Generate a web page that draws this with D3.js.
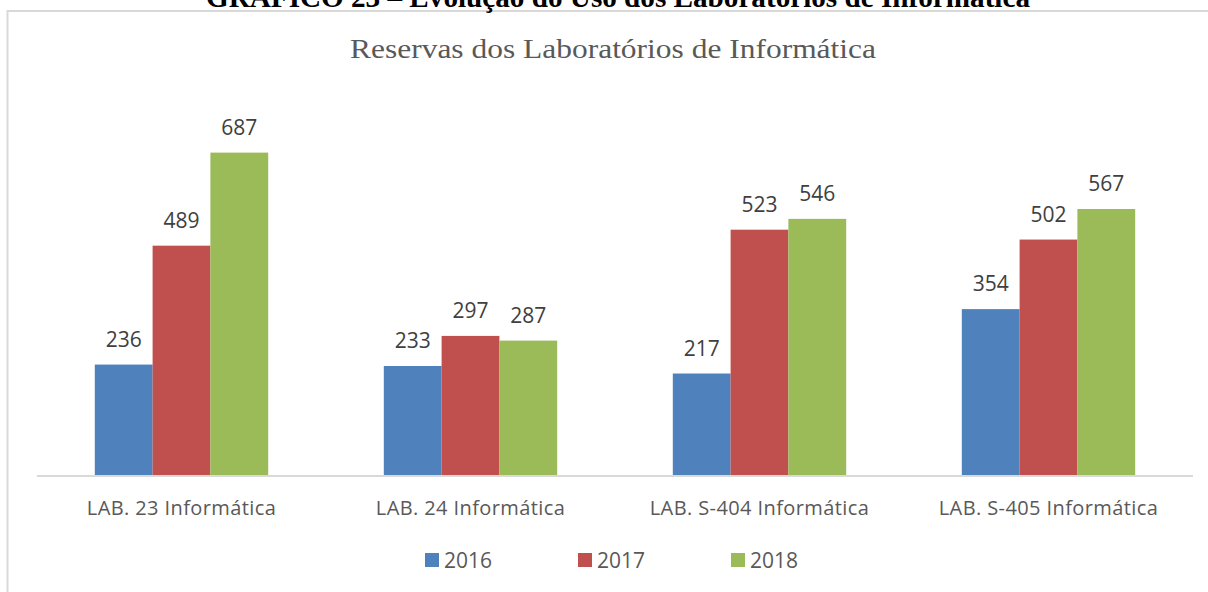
<!DOCTYPE html>
<html><head><meta charset="utf-8">
<script src="https://cdn.jsdelivr.net/npm/d3@7"></script>
<style>body{margin:0;background:#fff;}svg{display:block;}</style>
</head><body>
<svg id="c" width="1208" height="592"></svg>
<script>
const categories = ["LAB. 23 Informática","LAB. 24 Informática","LAB. S-404 Informática","LAB. S-405 Informática"];
const seriesNames = ["2016","2017","2018"];
const v2016 = [236,233,217,354];
const v2017 = [489,297,523,502];
const v2018 = [687,287,546,567];
const colors = ["#4f81bd","#c0504d","#9bbb59"];
const series = [v2016,v2017,v2018];

const svg = d3.select("#c");
// frame
svg.append("path").attr("d","M7.5,592 L7.5,11 L1208,11").attr("fill","none").attr("stroke","#d9d9d9").attr("stroke-width",2);
// clipped heading (cut at top edge as in the source)
svg.append("text").attr("x",618).attr("y",7).attr("text-anchor","middle")
  .attr("font-family","Liberation Serif").attr("font-weight","bold").attr("font-size",29).attr("fill","#000")
  .attr("textLength",824).attr("lengthAdjust","spacingAndGlyphs")
  .text("GRÁFICO 23 – Evolução do Uso dos Laboratórios de Informática");
// title
svg.append("text").attr("x",613).attr("y",58).attr("text-anchor","middle")
  .attr("font-family","Liberation Serif").attr("font-size",27).attr("fill","#595959")
  .attr("textLength",526).attr("lengthAdjust","spacingAndGlyphs")
  .text("Reservas dos Laboratórios de Informática");

const x0 = d3.scaleBand().domain(categories).range([37,1193]).paddingInner(0.4).paddingOuter(0.2);
const x1 = d3.scaleBand().domain(seriesNames).range([0,x0.bandwidth()]);
const y = d3.scaleLinear().domain([0,800]).range([475.5,99.5]);

const g = svg.append("g");
categories.forEach((c,i)=>{
  seriesNames.forEach((s,j)=>{
    const v = series[j][i];
    g.append("rect").attr("x",x0(c)+x1(s)).attr("y",y(v)).attr("width",x1.bandwidth()).attr("height",y(0)-y(v)).attr("fill",colors[j]);
    g.append("text").attr("x",x0(c)+x1(s)+x1.bandwidth()/2).attr("y",y(v)-18).attr("text-anchor","middle")
      .attr("font-family","Open Sans").attr("font-size",21).attr("fill","#404040").text(v);
  });
});
// axis
const ax = svg.append("g").attr("transform","translate(0,476)").call(d3.axisBottom(x0).tickSize(0));
ax.select(".domain").attr("stroke","#d9d9d9").attr("stroke-width",2).attr("d","M37,0H1193");
ax.selectAll("text").attr("y",39).attr("dy",null).attr("font-family","Open Sans").attr("font-size",20)
  .attr("letter-spacing",0.4).attr("fill","#595959");

// legend
const legX = [425,578,731];
seriesNames.forEach((s,j)=>{
  svg.append("rect").attr("x",legX[j]).attr("y",553).attr("width",14).attr("height",14).attr("fill",colors[j]);
  svg.append("text").attr("x",legX[j]+19).attr("y",568).attr("font-family","Open Sans").attr("font-size",21).attr("fill","#595959").text(s);
});
</script>
</body></html>
